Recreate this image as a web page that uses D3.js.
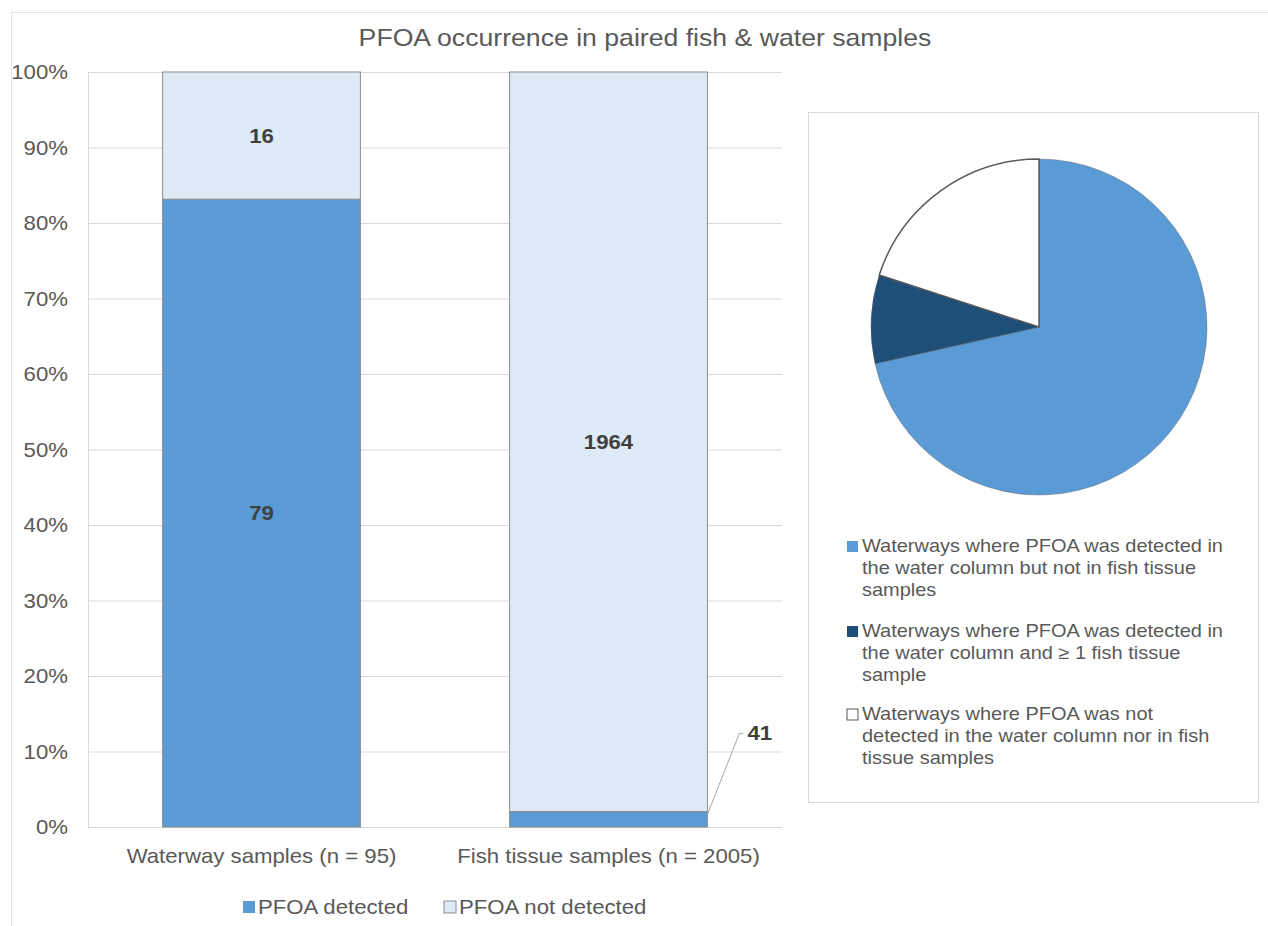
<!DOCTYPE html>
<html>
<head>
<meta charset="utf-8">
<script src="https://cdn.jsdelivr.net/npm/d3@7"></script>
<style>
  body { margin: 0; background: #fff; }
  text { font-family: "Liberation Sans", Arial, sans-serif; }
</style>
</head>
<body>
<script>
// bar chart data
const categories = ["Waterway samples (n = 95)", "Fish tissue samples (n = 2005)"];
const seriesNames = ["PFOA detected", "PFOA not detected"];
const detected = [79, 41];
const notDetected = [16, 1964];
const yTicks = [0, 0.1, 0.2, 0.3, 0.4, 0.5, 0.6, 0.7, 0.8, 0.9, 1];

// pie data (share of waterways, %)
const pieLabels = [
  ["Waterways where PFOA was detected in", "the water column but not in fish tissue", "samples"],
  ["Waterways where PFOA was detected in", "the water column and \u2265 1 fish tissue", "sample"],
  ["Waterways where PFOA was not", "detected in the water column nor in fish", "tissue samples"]
];
const pieValues = [71.5, 8.5, 20];

const barColors = ["#5B9BD5", "#DEEAF6"];
const pieColors = ["#5B9BD5", "#1F4E79", "#FFFFFF"];
const textColor = "#595959";
const sx = 1.11; // the original text is a bit wider than Liberation Sans

const W = 1268, H = 926;
const svg = d3.select("body").append("svg")
    .attr("width", W)
    .attr("height", H);

// move x/y into a transform so text can be widened
function stretch(sel) {
  sel.each(function() {
    const t = d3.select(this);
    const tx = +t.attr("x") || 0, ty = +t.attr("y") || 0;
    t.attr("x", 0).attr("y", 0)
     .attr("transform", `translate(${tx},${ty}) scale(${sx},1)`);
  });
}

// outer chart border
svg.append("rect")
    .attr("x", 11.5).attr("y", 12.5)
    .attr("width", W - 8).attr("height", H)
    .attr("fill", "#fff")
    .attr("stroke", "#e3e3e3");

svg.append("text")
    .attr("x", 645).attr("y", 46)
    .attr("text-anchor", "middle")
    .attr("font-size", 24)
    .attr("fill", textColor)
    .text("PFOA occurrence in paired fish & water samples")
    .call(stretch);

// ---- stacked percent bars ----
const plotL = 88, plotR = 782, plotT = 72, plotB = 827;

const x = d3.scaleBand()
    .domain(categories)
    .range([plotL, plotR])
    .paddingInner(0.43)
    .paddingOuter(0.215);

const y = d3.scaleLinear()
    .domain([0, 1])
    .range([plotB, plotT]);

const rows = categories.map((c, i) => {
  const total = detected[i] + notDetected[i];
  return { cat: c, total: total, det: detected[i] / total, not: notDetected[i] / total };
});
const stack = d3.stack().keys(["det", "not"]);
const layers = stack(rows);

// gridlines
svg.append("g")
    .selectAll("line")
    .data(yTicks)
    .enter().append("line")
    .attr("x1", plotL).attr("x2", plotR)
    .attr("y1", d => y(d) + 0.5).attr("y2", d => y(d) + 0.5)
    .attr("stroke", "#d9d9d9");

svg.append("line")
    .attr("x1", plotL + 0.5).attr("x2", plotL + 0.5)
    .attr("y1", plotT).attr("y2", plotB)
    .attr("stroke", "#d9d9d9");

// y labels
svg.append("g")
    .selectAll("text")
    .data(yTicks)
    .enter().append("text")
    .attr("x", 68)
    .attr("y", d => y(d))
    .attr("dy", "0.35em")
    .attr("text-anchor", "end")
    .attr("font-size", 20)
    .attr("fill", textColor)
    .text(d => d3.format(".0%")(d))
    .call(stretch);

svg.append("g")
    .selectAll("g")
    .data(layers)
    .enter().append("g")
    .attr("fill", (d, i) => barColors[i])
    .selectAll("rect")
    .data(d => d)
    .enter().append("rect")
    .attr("x", d => x(d.data.cat))
    .attr("y", d => y(d[1]))
    .attr("width", x.bandwidth())
    .attr("height", d => y(d[0]) - y(d[1]))
    .attr("stroke", "#8c8c8c")
    .attr("stroke-width", 1);

// value labels
const labelData = [];
layers.forEach((layer, li) => {
  layer.forEach((d, ci) => {
    const val = li === 0 ? detected[ci] : notDetected[ci];
    labelData.push({ d: d, val: val, ci: ci, li: li });
  });
});

labelData.forEach(o => {
  const cx = x(o.d.data.cat) + x.bandwidth() / 2;
  const mid = y((o.d[0] + o.d[1]) / 2);
  if (o.val === 41) {
    // leader line to small segment
    const bx = x(o.d.data.cat) + x.bandwidth();
    const by = y(o.d[1]) + 3;
    const ty = y(0.124);
    svg.append("polyline")
        .attr("points", `${bx},${by} ${bx + 32},${ty} ${bx + 36},${ty}`)
        .attr("fill", "none")
        .attr("stroke", "#a6a6a6");
    svg.append("text")
        .attr("x", bx + 40).attr("y", ty)
        .attr("dy", "0.35em")
        .attr("font-size", 20).attr("font-weight", "bold")
        .attr("fill", "#404040")
        .text(o.val)
        .call(stretch);
  } else {
    svg.append("text")
        .attr("x", cx).attr("y", mid)
        .attr("dy", "0.35em")
        .attr("text-anchor", "middle")
        .attr("font-size", 20).attr("font-weight", "bold")
        .attr("fill", "#404040")
        .text(o.val)
        .call(stretch);
  }
});

// x labels
svg.append("g")
    .selectAll("text")
    .data(categories)
    .enter().append("text")
    .attr("x", d => x(d) + x.bandwidth() / 2)
    .attr("y", 863)
    .attr("text-anchor", "middle")
    .attr("font-size", 20)
    .attr("fill", textColor)
    .text(d => d)
    .call(stretch);

// bottom legend
const legX = [243, 444];
const leg = svg.append("g")
    .selectAll("g")
    .data(seriesNames)
    .enter().append("g")
    .attr("transform", (d, i) => `translate(${legX[i]},907)`);
leg.append("rect")
    .attr("x", 0).attr("y", -6)
    .attr("width", 12).attr("height", 12)
    .attr("fill", (d, i) => barColors[i])
    .attr("stroke", (d, i) => i === 1 ? "#8c8c8c" : "none");
leg.append("text")
    .attr("x", 15).attr("dy", "0.35em")
    .attr("font-size", 20)
    .attr("fill", textColor)
    .text(d => d)
    .call(stretch);

// ---- pie panel ----
svg.append("rect")
    .attr("x", 808.5).attr("y", 112.5)
    .attr("width", 450).attr("height", 690)
    .attr("fill", "#fff")
    .attr("stroke", "#d9d9d9");

const pie = d3.pie().sort(null)(pieValues);
const arc = d3.arc().innerRadius(0).outerRadius(168);

const pieG = svg.append("g").attr("transform", "translate(1039,327)");
pieG.selectAll("path")
    .data(pie)
    .enter().append("path")
    .attr("d", arc)
    .attr("fill", (d, i) => pieColors[i])
    .attr("stroke", "#595959")
    .attr("stroke-width", (d, i) => i === 2 ? 1.5 : 0.4);

// pie legend
const itemY = [546, 631, 714];
const pl = svg.append("g")
    .selectAll("g")
    .data(pieLabels)
    .enter().append("g")
    .attr("transform", (d, i) => `translate(847,${itemY[i]})`);
pl.append("rect")
    .attr("x", 0).attr("y", -5)
    .attr("width", 11).attr("height", 11)
    .attr("fill", (d, i) => pieColors[i])
    .attr("stroke", (d, i) => i === 2 ? "#595959" : "none");
pl.each(function(lines, i) {
  const g = d3.select(this);
  lines.forEach((ln, j) => {
    g.append("text")
        .attr("x", 15)
        .attr("y", j * 22)
        .attr("dy", "0.35em")
        .attr("font-size", 18)
        .attr("fill", textColor)
        .text(ln)
        .call(stretch);
  });
});
</script>
</body>
</html>
